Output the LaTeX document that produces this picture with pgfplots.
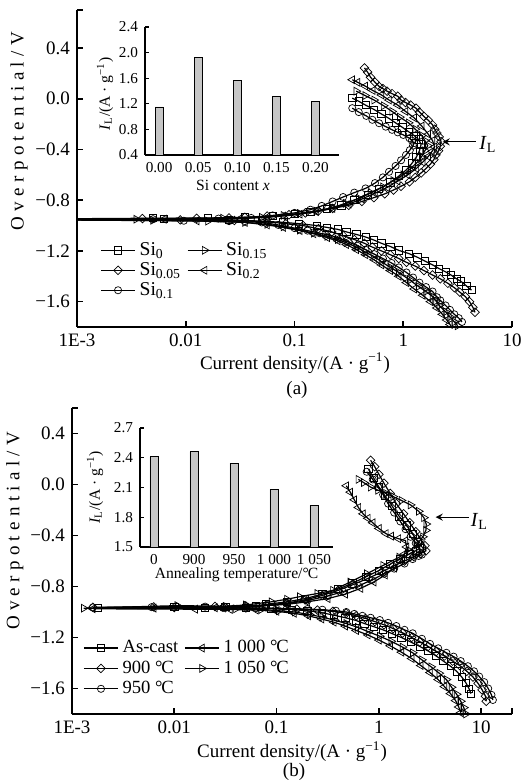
\documentclass[border=0pt]{standalone}
\usepackage{fontspec}
\setmainfont{Liberation Serif}
\usepackage{pgfplots}
\pgfplotsset{compat=1.18}
\newcommand\degC{\textdegree\kern-0.06em C}
\newcommand\unitAg{/(A\ ·\ g\textsuperscript{−1})}

\pgfplotsset{
  mainax/.style={
    scale only axis, ymin=-1.8,
    axis x line=bottom, axis y line=left,
    axis line style={-, line width=0.8pt},
    tick style={black, line width=0.8pt},
    major tick length=3pt, tick align=inside,
    xminorticks=false, yminorticks=false,
    tick label style={font=\fontsize{9.5}{11}\selectfont},
    label style={font=\fontsize{9.5}{11}\selectfont},
    xlabel={Current density\unitAg},
    ylabel={\addfontfeatures{LetterSpace=28}Overpotential/V},
    legend cell align=left, legend columns=2,
    legend style={draw=none, fill=none, inner sep=0pt,
      /tikz/every even column/.append style={column sep=1pt}},
    legend image code/.code={\draw[mark repeat=2,mark phase=2] plot coordinates {(0pt,0pt)(8.5pt,0pt)(17pt,0pt)};},
    every axis plot/.append style={black, line width=0.6pt, mark size=1.8pt,
      mark options={fill=white, line width=0.35pt, solid}},
  },
  inax/.style={
    scale only axis, axis x line=bottom, axis y line=left,
    axis line style={-, line width=0.6pt},
    ybar, bar width=4pt, enlargelimits=false,
    tick align=inside, major tick length=2pt,
    ytick style={black, line width=0.6pt}, xtick style={draw=none},
    xtick={0,1,2,3,4},
    tick label style={font=\fontsize{7.6}{9}\selectfont},
    label style={font=\fontsize{7.8}{9}\selectfont},
    ylabel={\textit{I}\textsubscript{L}\unitAg},
  },
  diam/.style={mark=square, every mark/.append style={rotate=45, scale=0.85}},
  tright/.style={mark=triangle, every mark/.append style={rotate=-90, scale=1.25}},
  tleft/.style={mark=triangle, every mark/.append style={rotate=90, scale=1.25}},
}

\begin{document}
\begin{tikzpicture}

% ---------------- (a) ----------------
\begin{axis}[mainax, xmode=log, at={(38.5pt,228pt)}, anchor=south west,
  width=217.5pt, height=158.5pt,
  xmin=0.001, xmax=10, ymax=0.7,
  xtick={0.001,0.01,0.1,1,10}, xticklabels={1E-3,0.01,0.1,1,10},
  ytick={-1.6,-1.2,-0.8,-0.4,0,0.4,0.7},
  yticklabels={−1.6,−1.2,−0.8,−0.4,0.0,0.4,{}},
  xlabel style={at={(axis description cs:0.501,-0.114)}, anchor=center},
  ylabel style={at={(axis description cs:-0.133,0.618)}, anchor=center},
  legend style={at={(0.053,0.281)}, anchor=north west,
    font=\fontsize{9.8}{11}\selectfont, row sep=-2pt}]

% Si0
\addplot[mark=square] coordinates {
(4.24,-1.51) (3.80,-1.475) (3.39,-1.44) (3.09,-1.42) (2.75,-1.39) (2.45,-1.365)
(2.14,-1.34) (1.86,-1.31) (1.58,-1.28) (1.35,-1.25) (1.12,-1.22) (0.91,-1.196)
(0.76,-1.165) (0.63,-1.14) (0.54,-1.115) (0.45,-1.09) (0.37,-1.07) (0.30,-1.05)
(0.25,-1.03) (0.20,-1.015) (0.16,-1.0) (0.11,-0.985) (0.079,-0.975) (0.05,-0.965)
(0.025,-0.955) (0.0063,-0.95) (0.00063,-0.947) (0.005,-0.942) (0.016,-0.94) (0.035,-0.935)
(0.063,-0.925) (0.10,-0.91) (0.14,-0.895) (0.20,-0.87) (0.27,-0.84) (0.355,-0.80)
(0.47,-0.755) (0.60,-0.71) (0.76,-0.66) (0.91,-0.61) (1.07,-0.56) (1.20,-0.51)
(1.32,-0.46) (1.41,-0.41) (1.46,-0.36) (1.38,-0.32) (1.26,-0.29) (1.12,-0.26)
(0.98,-0.225) (0.85,-0.19) (0.74,-0.155) (0.63,-0.12) (0.54,-0.085) (0.45,-0.05)
(0.39,-0.02) (0.34,0.005)};
\addlegendentry{Si\textsubscript{0}}

% Si0.15
\addplot[tright] coordinates {
(3.16,-1.79) (2.95,-1.76) (2.69,-1.72) (2.45,-1.68) (2.14,-1.63) (2.0,-1.595)
(1.86,-1.56) (1.62,-1.52) (1.38,-1.48) (1.15,-1.43) (0.91,-1.37) (0.76,-1.33)
(0.63,-1.285) (0.54,-1.245) (0.45,-1.21) (0.37,-1.17) (0.30,-1.135) (0.25,-1.11)
(0.20,-1.085) (0.15,-1.06) (0.112,-1.035) (0.079,-1.01) (0.056,-0.99) (0.035,-0.975)
(0.016,-0.965) (0.005,-0.958) (0.0006,-0.952) (0.0035,-0.95) (0.022,-0.942) (0.05,-0.935)
(0.079,-0.92) (0.112,-0.905) (0.158,-0.885) (0.22,-0.86) (0.295,-0.825) (0.39,-0.785)
(0.50,-0.74) (0.65,-0.695) (0.81,-0.645) (1.0,-0.60) (1.17,-0.55) (1.35,-0.50)
(1.48,-0.455) (1.58,-0.41) (1.68,-0.37) (1.58,-0.33) (1.48,-0.29) (1.29,-0.24)
(1.12,-0.19) (0.93,-0.145) (0.79,-0.10) (0.66,-0.055) (0.54,-0.01) (0.447,0.025)
(0.37,0.06)};
\addlegendentry{Si\textsubscript{0.15}}

% Si0.05
\addplot[diam] coordinates {
(4.57,-1.684) (4.37,-1.645) (4.07,-1.60) (3.72,-1.56) (3.31,-1.525) (2.95,-1.49)
(2.57,-1.455) (2.19,-1.42) (1.86,-1.39) (1.55,-1.355) (1.29,-1.32) (1.07,-1.29)
(0.91,-1.26) (0.76,-1.23) (0.63,-1.20) (0.52,-1.17) (0.44,-1.14) (0.355,-1.11)
(0.28,-1.08) (0.22,-1.05) (0.166,-1.025) (0.12,-1.0) (0.083,-0.985) (0.056,-0.97)
(0.028,-0.96) (0.0089,-0.955) (0.0005,-0.95) (0.004,-0.945) (0.0126,-0.943) (0.025,-0.94)
(0.035,-0.935) (0.056,-0.925) (0.089,-0.915) (0.126,-0.90) (0.166,-0.885) (0.224,-0.865)
(0.316,-0.84) (0.417,-0.81) (0.537,-0.78) (0.676,-0.75) (0.813,-0.72) (0.955,-0.69)
(1.14,-0.655) (1.29,-0.62) (1.46,-0.585) (1.62,-0.55) (1.78,-0.515) (1.91,-0.48)
(2.0,-0.443) (2.11,-0.41) (2.19,-0.375) (2.23,-0.338) (2.14,-0.30) (2.04,-0.27)
(1.95,-0.24) (1.86,-0.206) (1.70,-0.17) (1.55,-0.14) (1.41,-0.105) (1.31,-0.074)
(1.17,-0.05) (1.05,-0.03) (0.955,-0.01) (0.89,0.02) (0.79,0.04) (0.71,0.06)
(0.65,0.08) (0.60,0.097) (0.55,0.13) (0.50,0.17) (0.47,0.21) (0.44,0.243)};
\addlegendentry{Si\textsubscript{0.05}}

% Si0.2
\addplot[tleft] coordinates {
(2.82,-1.81) (2.69,-1.78) (2.51,-1.745) (2.29,-1.70) (2.04,-1.65) (1.78,-1.60)
(1.51,-1.55) (1.26,-1.50) (1.07,-1.45) (0.91,-1.40) (0.76,-1.355) (0.63,-1.31)
(0.54,-1.27) (0.45,-1.23) (0.37,-1.19) (0.30,-1.15) (0.25,-1.12) (0.20,-1.095)
(0.15,-1.065) (0.112,-1.04) (0.079,-1.015) (0.056,-0.995) (0.035,-0.975) (0.0126,-0.963)
(0.0004,-0.955) (0.0063,-0.95) (0.0316,-0.945) (0.056,-0.935)
(0.079,-0.925) (0.112,-0.91) (0.158,-0.89) (0.224,-0.865) (0.316,-0.83) (0.417,-0.79)
(0.55,-0.745) (0.71,-0.70) (0.89,-0.65) (1.10,-0.60) (1.32,-0.55) (1.51,-0.50)
(1.70,-0.455) (1.84,-0.415) (1.94,-0.38) (1.86,-0.33) (1.70,-0.28) (1.48,-0.215)
(1.26,-0.15) (1.05,-0.10) (0.89,-0.05) (0.74,-0.01) (0.63,0.03) (0.525,0.065)
(0.447,0.10) (0.38,0.13) (0.34,0.15)};
\addlegendentry{Si\textsubscript{0.2}}

% Si0.1
\addplot[mark=o] coordinates {
(3.47,-1.76) (3.24,-1.73) (2.95,-1.70) (2.69,-1.665) (2.45,-1.63) (2.19,-1.59)
(2.04,-1.565) (1.86,-1.52) (1.62,-1.485) (1.41,-1.45) (1.23,-1.41) (1.07,-1.37)
(0.91,-1.33) (0.78,-1.295) (0.65,-1.26) (0.54,-1.225) (0.45,-1.19) (0.38,-1.16)
(0.316,-1.13) (0.263,-1.105) (0.22,-1.08) (0.17,-1.06) (0.132,-1.04) (0.10,-1.02)
(0.071,-0.995) (0.05,-0.975) (0.025,-0.965) (0.0096,-0.962) (0.0008,-0.955) (0.005,-0.95)
(0.02,-0.945) (0.04,-0.94)
(0.063,-0.92) (0.10,-0.90) (0.14,-0.875) (0.178,-0.845) (0.224,-0.81) (0.28,-0.775)
(0.355,-0.74) (0.45,-0.707) (0.55,-0.665) (0.65,-0.62) (0.74,-0.576) (0.85,-0.53)
(0.955,-0.485) (1.06,-0.443) (1.15,-0.405) (1.23,-0.37) (1.26,-0.35) (1.20,-0.33)
(1.14,-0.311) (1.0,-0.285) (0.89,-0.265) (0.79,-0.245) (0.69,-0.22) (0.60,-0.193)
(0.52,-0.166) (0.457,-0.135) (0.39,-0.105) (0.34,-0.074)};
\addlegendentry{Si\textsubscript{0.1}}

\draw[-stealth, line width=0.6pt] (axis cs:4.64,-0.34) -- (axis cs:2.30,-0.34);
\node[font=\fontsize{10}{12}\selectfont] at (axis cs:6.0,-0.36) {\textit{I}\textsubscript{L}};
\end{axis}

\begin{axis}[inax, at={(72.5pt,314pt)}, anchor=south west,
  width=97pt, height=64pt,
  xmin=-0.36, xmax=4.6, ymin=0.4, ymax=2.4,
  ytick={0.4,0.8,1.2,1.6,2.0,2.4}, yticklabels={0.4,0.8,1.2,1.6,2.0,2.4},
  xticklabels={0.00,0.05,0.10,0.15,0.20},
  xlabel={Si content \textit{x}},
  xlabel style={at={(axis description cs:0.454,-0.24)}, anchor=center},
  ylabel style={at={(axis description cs:-0.206,0.477)}, anchor=center}]
\addplot[fill=gray!45, draw=black, line width=0.4pt] coordinates {
(0,1.15) (1,1.93) (2,1.56) (3,1.31) (4,1.23)};
\end{axis}

% ---------------- (b) ----------------
\begin{axis}[mainax, xmode=log, at={(36pt,34.5pt)}, anchor=south west,
  width=220pt, height=153pt,
  xmin=0.001, xmax=20, ymax=0.6,
  xtick={0.001,0.01,0.1,1,10,20}, xticklabels={1E-3,0.01,0.1,1,10,{}},
  ytick={-1.6,-1.2,-0.8,-0.4,0,0.4,0.6},
  yticklabels={−1.6,−1.2,−0.8,−0.4,0.0,0.4,{}},
  xlabel style={at={(axis description cs:0.50,-0.123)}, anchor=center},
  ylabel style={at={(axis description cs:-0.13,0.598)}, anchor=center},
  legend style={at={(0.025,0.255)}, anchor=north west,
    font=\fontsize{9.3}{11}\selectfont, row sep=-1.5pt}]

% As-cast
\addplot[mark=square] coordinates {
(7.94,-1.64) (7.59,-1.60) (7.08,-1.555) (6.46,-1.51) (5.75,-1.465) (5.01,-1.425)
(4.27,-1.385) (3.63,-1.345) (3.02,-1.305) (2.51,-1.27) (2.04,-1.235) (1.66,-1.20)
(1.35,-1.17) (1.10,-1.14) (0.89,-1.115) (0.72,-1.09) (0.59,-1.065) (0.47,-1.045)
(0.363,-1.025) (0.275,-1.005) (0.20,-0.99) (0.141,-0.98) (0.089,-0.975) (0.05,-0.97)
(0.02,-0.968) (0.0018,-0.966) (0.01,-0.962) (0.0316,-0.958) (0.063,-0.953)
(0.079,-0.94) (0.126,-0.92) (0.19,-0.895) (0.28,-0.86) (0.40,-0.82) (0.55,-0.775)
(0.74,-0.725) (1.0,-0.675) (1.29,-0.625) (1.62,-0.58) (2.0,-0.545) (2.29,-0.52)
(2.51,-0.50) (2.40,-0.45) (2.14,-0.39) (1.86,-0.32) (1.58,-0.25) (1.35,-0.17)
(1.15,-0.09) (1.0,-0.02) (0.89,0.05) (0.79,0.12)};
\addlegendentry{As-cast}

% 1000
\addplot[tleft] coordinates {
(6.31,-1.79) (6.03,-1.745) (5.62,-1.695) (5.01,-1.64) (4.37,-1.585) (3.80,-1.53)
(3.16,-1.475) (2.57,-1.42) (2.09,-1.365) (1.66,-1.315) (1.29,-1.265) (1.0,-1.22)
(0.78,-1.18) (0.60,-1.145) (0.468,-1.11) (0.363,-1.08) (0.275,-1.055) (0.204,-1.03)
(0.148,-1.01) (0.10,-0.995) (0.063,-0.985) (0.035,-0.98) (0.016,-0.978) (0.0016,-0.975)
(0.0063,-0.97) (0.025,-0.967) (0.05,-0.963)
(0.079,-0.95) (0.126,-0.94) (0.20,-0.92) (0.316,-0.895) (0.468,-0.86) (0.66,-0.815)
(0.89,-0.765) (1.15,-0.71) (1.41,-0.655) (1.62,-0.60) (1.78,-0.545) (1.86,-0.49)
(1.82,-0.44) (1.55,-0.425) (1.32,-0.405) (1.17,-0.385) (1.0,-0.345) (0.87,-0.30)
(0.78,-0.265) (0.70,-0.23) (0.63,-0.18) (0.575,-0.12) (0.525,-0.06) (0.48,-0.01)};
\addlegendentry{1~000 \degC}

% 900
\addplot[diam] coordinates {
(11.2,-1.70) (11.0,-1.66) (10.2,-1.61) (9.33,-1.56) (8.32,-1.51) (7.24,-1.465)
(6.17,-1.42) (5.25,-1.385) (4.37,-1.345) (3.63,-1.31) (3.02,-1.27) (2.51,-1.235)
(2.09,-1.20) (1.70,-1.165) (1.38,-1.13) (1.12,-1.10) (0.91,-1.075) (0.74,-1.05)
(0.60,-1.03) (0.48,-1.01) (0.355,-0.995) (0.25,-0.985) (0.158,-0.977) (0.10,-0.972)
(0.05,-0.968) (0.0316,-0.966) (0.01,-0.965) (0.0016,-0.963) (0.0063,-0.96) (0.025,-0.957)
(0.05,-0.952)
(0.079,-0.945) (0.126,-0.93) (0.19,-0.905) (0.28,-0.87) (0.40,-0.83) (0.56,-0.785)
(0.79,-0.735) (1.07,-0.685) (1.38,-0.64) (1.78,-0.60) (2.19,-0.565) (2.57,-0.54)
(2.88,-0.52) (2.82,-0.48) (2.57,-0.43) (2.29,-0.37) (2.0,-0.30) (1.74,-0.23)
(1.48,-0.15) (1.29,-0.07) (1.12,0.01) (1.0,0.08) (0.91,0.14) (0.83,0.19)};
\addlegendentry{900 \degC}

% 1050
\addplot[tright] coordinates {
(7.08,-1.80) (6.76,-1.75) (6.31,-1.70) (5.75,-1.645) (5.13,-1.59) (4.57,-1.53)
(3.89,-1.48) (3.24,-1.43) (2.63,-1.375) (2.14,-1.32) (1.70,-1.275) (1.32,-1.23)
(1.02,-1.19) (0.79,-1.155) (0.62,-1.12) (0.48,-1.09) (0.37,-1.065) (0.28,-1.04)
(0.21,-1.02) (0.15,-1.0) (0.105,-0.99) (0.071,-0.98) (0.04,-0.975) (0.0013,-0.97)
(0.0107,-0.95) (0.0316,-0.955)
(0.05,-0.945) (0.089,-0.92) (0.126,-0.90) (0.168,-0.88) (0.25,-0.855) (0.355,-0.83)
(0.525,-0.765) (0.76,-0.70) (1.10,-0.635) (1.58,-0.57) (2.0,-0.52) (2.32,-0.475)
(2.69,-0.41) (2.88,-0.36) (2.9,-0.31) (2.75,-0.26) (2.45,-0.21) (2.04,-0.16)
(1.66,-0.125) (1.38,-0.095) (1.17,-0.07) (0.98,-0.045) (0.83,-0.02) (0.71,0.015)
(0.63,0.04)};
\addlegendentry{1~050 \degC}

% 950
\addplot[mark=o] coordinates {
(13.0,-1.69) (12.6,-1.65) (11.7,-1.60) (10.7,-1.55) (9.55,-1.506) (8.51,-1.465)
(7.41,-1.425) (6.31,-1.385) (5.37,-1.35) (4.57,-1.32) (3.80,-1.285) (3.16,-1.25)
(2.63,-1.21) (2.14,-1.167) (1.78,-1.14) (1.48,-1.11) (1.23,-1.085) (1.02,-1.063)
(0.83,-1.045) (0.69,-1.03) (0.575,-1.015) (0.48,-1.0) (0.38,-0.99) (0.28,-0.982)
(0.20,-0.977) (0.126,-0.972) (0.063,-0.97) (0.03,-0.968) (0.0016,-0.964) (0.006,-0.962)
(0.02,-0.958) (0.05,-0.955)
(0.079,-0.95) (0.126,-0.935) (0.20,-0.91) (0.316,-0.875) (0.447,-0.84) (0.63,-0.795)
(0.85,-0.75) (1.12,-0.70) (1.41,-0.66) (1.78,-0.62) (2.14,-0.585) (2.45,-0.56)
(2.63,-0.55) (2.51,-0.51) (2.29,-0.46) (2.04,-0.41) (1.82,-0.35) (1.62,-0.29)
(1.41,-0.22) (1.23,-0.15) (1.10,-0.08) (0.98,-0.02) (0.87,0.04) (0.76,0.10)};
\addlegendentry{950 \degC}

\draw[-stealth, line width=0.6pt] (axis cs:7.53,-0.256) -- (axis cs:3.58,-0.256);
\node[font=\fontsize{10}{12}\selectfont] at (axis cs:9.6,-0.29) {\textit{I}\textsubscript{L}};
\end{axis}

\begin{axis}[inax, at={(70pt,118pt)}, anchor=south west,
  width=96.5pt, height=59.5pt,
  xmin=-0.35, xmax=4.475, ymin=1.5, ymax=2.7,
  ytick={1.5,1.8,2.1,2.4,2.7}, yticklabels={1.5,1.8,2.1,2.4,2.7},
  xticklabels={0,900,950,1~000,1~050},
  xlabel={Annealing temperature/\degC},
  xlabel style={at={(axis description cs:0.50,-0.235)}, anchor=center},
  ylabel style={at={(axis description cs:-0.233,0.50)}, anchor=center}]
\addplot[fill=gray!45, draw=black, line width=0.4pt] coordinates {
(0,2.41) (1,2.46) (2,2.345) (3,2.08) (4,1.92)};
\end{axis}

\node[font=\fontsize{9.5}{11}\selectfont] at (148.5pt,196.5pt) {(a)};
\node[font=\fontsize{9.5}{11}\selectfont] at (147pt,5.5pt) {(b)};

\pgfresetboundingbox
\path (0,0) rectangle (264.5pt,391.5pt);
\end{tikzpicture}
\end{document}
